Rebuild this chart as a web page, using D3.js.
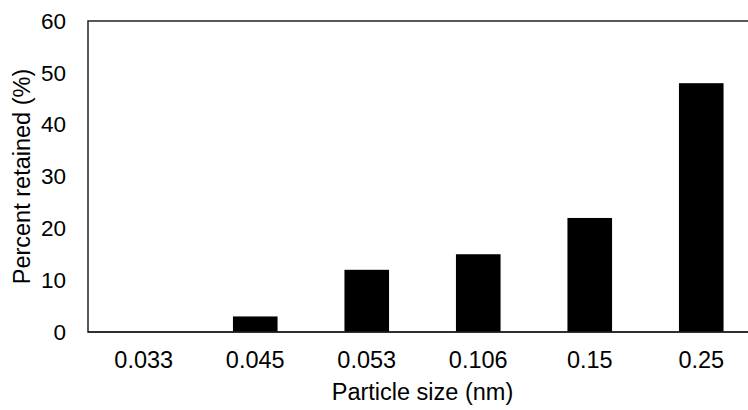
<!DOCTYPE html>
<html>
<head>
<meta charset="utf-8">
<script src="https://cdn.jsdelivr.net/npm/d3@7"></script>
<style>
  html, body { margin: 0; padding: 0; background: #fff; }
  svg { display: block; font-family: "Liberation Sans", Arial, sans-serif; }
</style>
</head>
<body>
<svg id="chart" width="748" height="410"></svg>
<script>
  // particle size categories (nm) and percent retained
  const sizes = ["0.033", "0.045", "0.053", "0.106", "0.15", "0.25"];
  const retained = [0, 3, 12, 15, 22, 48];
  const yTicks = [0, 10, 20, 30, 40, 50, 60];

  (() => {
    const svg = d3.select("#chart");
    const mL = 88, mR = 757, mT = 21, mB = 332;
    const FS = 23.5;

    const x = d3.scaleBand().domain(sizes).range([mL, mR]).paddingInner(0.6).paddingOuter(0.3);
    const y = d3.scaleLinear().domain([0, 60]).range([mB, mT]);

    // frame
    svg.append("rect")
      .attr("x", mL).attr("y", mT)
      .attr("width", mR - mL).attr("height", mB - mT)
      .attr("fill", "none").attr("stroke", "#222").attr("stroke-width", 1.5);

    // bars
    svg.selectAll("rect.bar")
      .data(sizes.map((s, i) => ({ s, v: retained[i] })))
      .join("rect")
      .attr("class", "bar")
      .attr("x", d => x(d.s))
      .attr("width", x.bandwidth())
      .attr("y", d => y(d.v))
      .attr("height", d => y(0) - y(d.v))
      .attr("fill", "#000");

    // y axis labels
    const yAxis = d3.axisLeft(y).tickValues(yTicks).tickSize(0).tickPadding(22);
    svg.append("g").attr("transform", `translate(${mL},0)`).call(yAxis)
      .call(g => g.select(".domain").remove())
      .selectAll("text").attr("font-size", FS - 1).attr("fill", "#000").attr("font-family", null);

    // x axis labels
    const xAxis = d3.axisBottom(x).tickSize(0).tickPadding(19);
    svg.append("g").attr("transform", `translate(0,${mB})`).call(xAxis)
      .call(g => g.select(".domain").remove())
      .selectAll("text").attr("font-size", FS).attr("fill", "#000").attr("font-family", null);

    // baseline over bars
    svg.append("line").attr("x1", mL).attr("x2", mR).attr("y1", mB).attr("y2", mB)
      .attr("stroke", "#222").attr("stroke-width", 1.5);

    svg.append("text")
      .attr("x", (mL + mR) / 2).attr("y", 400)
      .attr("text-anchor", "middle").attr("font-size", FS)
      .text("Particle size (nm)");

    svg.append("text")
      .attr("transform", `translate(30,${(mT + mB) / 2}) rotate(-90)`)
      .attr("text-anchor", "middle").attr("font-size", FS)
      .text("Percent retained (%)");
  })();
</script>
</body>
</html>
